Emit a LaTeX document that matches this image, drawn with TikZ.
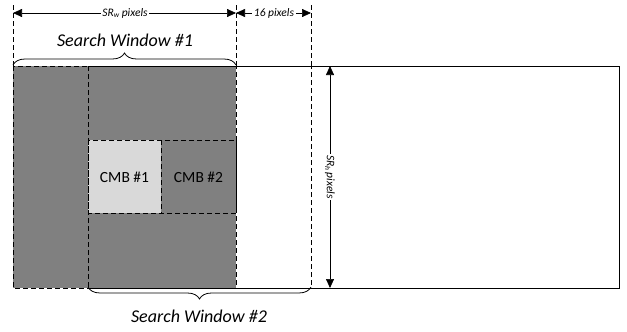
\documentclass[tikz,border=0pt]{standalone}
\usepackage{fontspec}
\setmainfont{Carlito}
\usetikzlibrary{arrows.meta,decorations.pathreplacing}
\newcommand\lowsub[1]{\raisebox{-0.35ex}{\fontsize{7.5}{8}\selectfont #1}}
\begin{document}
\begin{tikzpicture}[x=1pt,y=-1pt,
  dashline/.style={dash pattern=on 5pt off 3pt, line width=0.8pt},
  solidline/.style={line width=0.8pt},
  dimarrow/.style={{Triangle[length=9pt,width=8pt]}-{Triangle[length=9pt,width=8pt]}, line width=0.7pt},
  dimlabel/.style={fill=white, inner sep=1.5pt, font=\fontsize{11.5}{13}\selectfont\itshape},
  bigtitle/.style={font=\fontsize{18}{21}\selectfont\itshape, inner sep=0pt},
  cmblabel/.style={font=\fontsize{15.5}{17}\selectfont, inner sep=0pt},
  bracedeco/.style={decorate, decoration={brace, amplitude=12pt}, line width=0.8pt}]
\useasboundingbox (0,0) rectangle (627,332);
\definecolor{swgray}{RGB}{128,128,128}
\definecolor{cmblight}{RGB}{217,217,217}
% corner coordinates
\coordinate (sw1tl) at (13,66);
\coordinate (sw1br) at (236,288);
\coordinate (sw2tl) at (88,66);
\coordinate (sw2br) at (311,288);
\coordinate (cmbtl) at (88,140);
\coordinate (cmbmid) at (161,213);
\coordinate (cmbbr) at (236,213);
% outer frame (solid)
\draw[solidline] (236,66) -- (619,66) -- (619,288) -- (236,288);
% search window 1 (gray)
\fill[swgray] (sw1tl) rectangle (sw1br);
% CMB blocks
\fill[cmblight] (cmbtl) rectangle (cmbmid);
% dashed outlines
\draw[dashline] (sw1tl) rectangle (sw1br);
\draw[dashline] (sw2tl) rectangle (sw2br);
\draw[dashline] (cmbtl) rectangle (cmbbr);
\draw[dashline] (161,140) -- (cmbmid);
% extension lines
\coordinate (e1) at (13,5);
\coordinate (e2) at (236,5);
\coordinate (e3) at (311,5);
\draw[dashline] (e1) -- (sw1tl);
\draw[dashline] (e2) -- (236,66);
\draw[dashline] (e3) -- (311,66);
% dimension arrows
\coordinate (d1) at (13,13);
\coordinate (d2) at (236,13);
\coordinate (d3) at (311,13);
\coordinate (v1) at (330,66);
\coordinate (v2) at (330,288);
\draw[dimarrow] (d1) -- (d2);
\draw[dimarrow] (d2) -- (d3);
\draw[dimarrow] (v1) -- (v2);
\node[dimlabel] (lw) at (125,13) {SR\lowsub{w} pixels};
\node[dimlabel] (l16) at (274,13) {16 pixels};
\node[dimlabel, rotate=-90] (lh) at (330,177) {SR\lowsub{h} pixels};
% braces
\draw[bracedeco] (13,65) -- (236,65);
\draw[bracedeco] (311,287) -- (88,287);
\node[bigtitle, anchor=base] (t1) at (125,46) {Search Window \#1};
\node[bigtitle, anchor=base] (t2) at (199,322) {Search Window \#2};
% CMB labels
\node[cmblabel] (c1) at (124.5,177) {CMB \#1};
\node[cmblabel] (c2) at (198.5,177) {CMB \#2};
\end{tikzpicture}
\end{document}
